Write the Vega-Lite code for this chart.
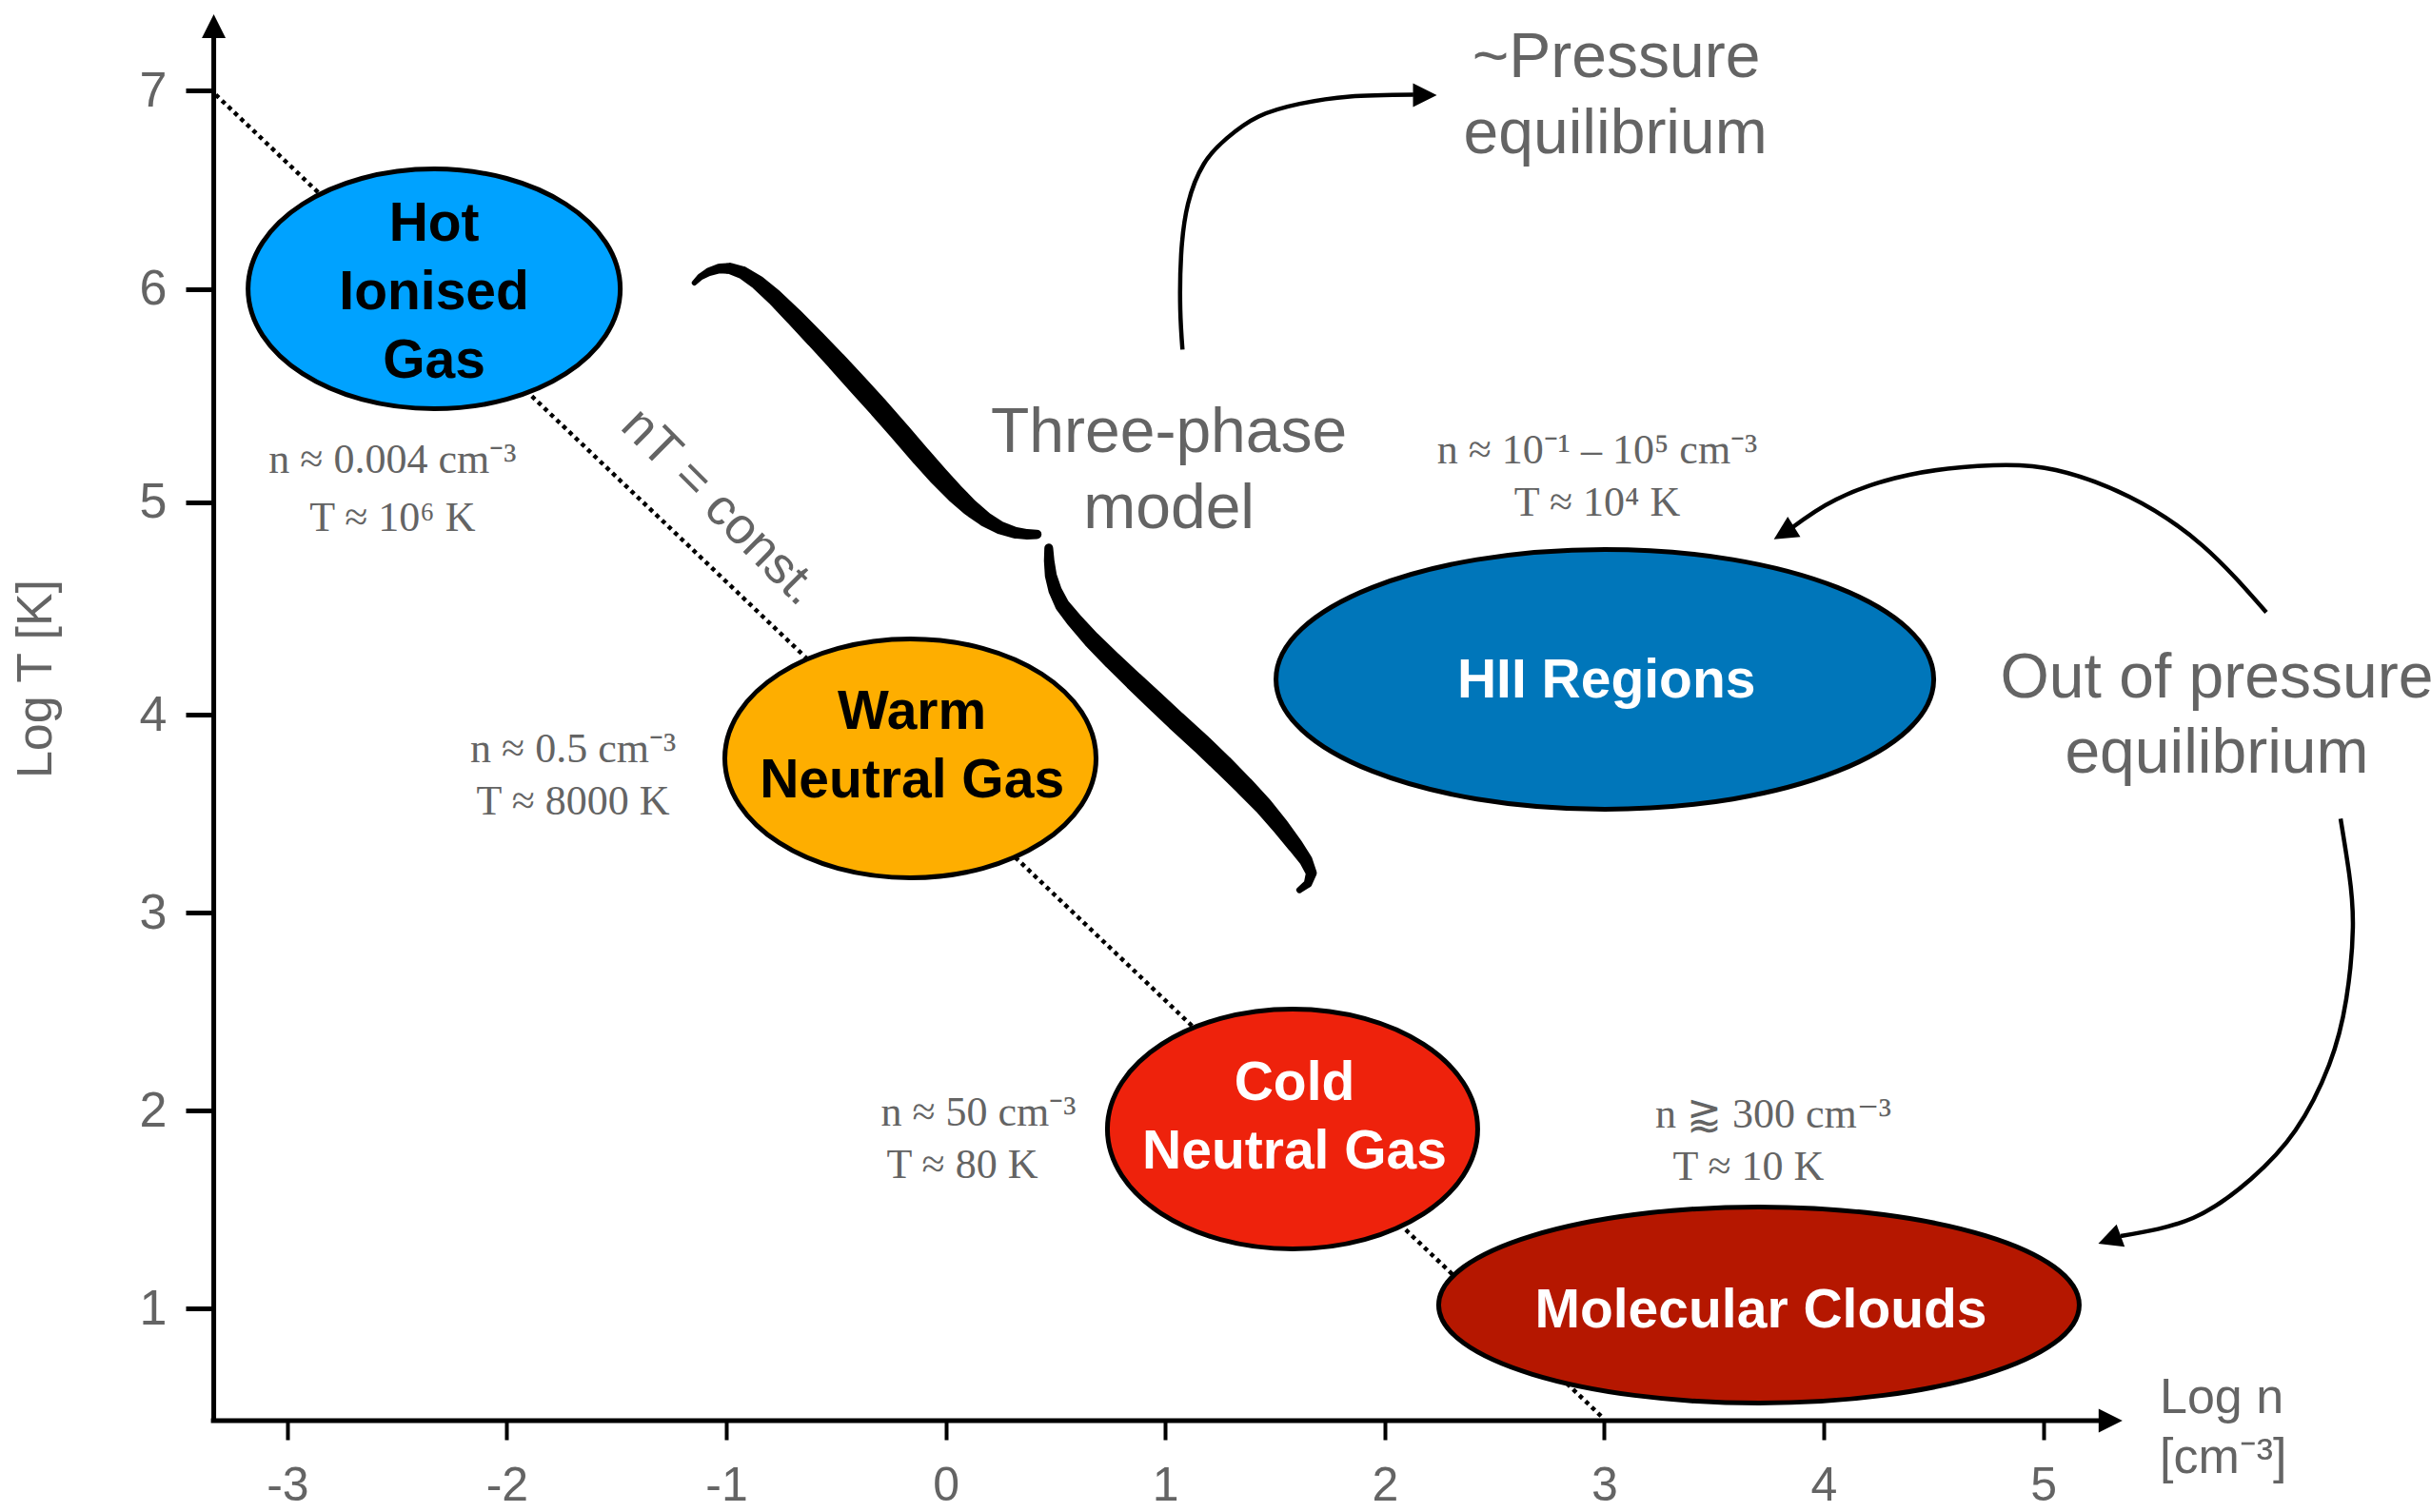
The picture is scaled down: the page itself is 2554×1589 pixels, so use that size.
{
  "$schema": "https://vega.github.io/schema/vega-lite/v6.json",
  "width": 2331,
  "height": 1493,
  "autosize": {"type": "none"},
  "padding": {"left": 223, "top": 0, "right": 0, "bottom": 96},
  "background": "white",
  "config": {"view": {"stroke": null}},
  "datasets": {
    "guides": [
      {"logn": -3.348, "logn2": 5.2576, "logT": 0.4327, "logT2": 0.4327},
      {"logn": -3.3352, "logn2": -3.3352, "logT": 0.4255, "logT2": 7.266}
    ],
    "isobar": [
      {"seq": 1, "logn": -3.326, "logT": 6.98},
      {"seq": 2, "logn": 2.994, "logT": 0.447}
    ],
    "phases": [
      {"phase": "Hot", "logn": -2.331, "logT": 6.0},
      {"phase": "Warm", "logn": -0.161, "logT": 3.779},
      {"phase": "Cold", "logn": 1.58, "logT": 1.906},
      {"phase": "HII", "logn": 3.003, "logT": 4.166},
      {"phase": "Mol", "logn": 3.705, "logT": 1.017}
    ],
    "phaseLabels": [
      {"phase": "Hot", "text": "Hot", "logn": -2.331, "logT": 6.243},
      {"phase": "Hot", "text": "Ionised", "logn": -2.331, "logT": 5.904},
      {"phase": "Hot", "text": "Gas", "logn": -2.331, "logT": 5.583},
      {"phase": "Warm", "text": "Warm", "logn": -0.154, "logT": 3.928},
      {"phase": "Warm", "text": "Neutral Gas", "logn": -0.154, "logT": 3.582},
      {"phase": "Cold", "text": "Cold", "logn": 1.589, "logT": 2.053},
      {"phase": "Cold", "text": "Neutral Gas", "logn": 1.589, "logT": 1.707},
      {"phase": "HII", "text": "HII Regions", "logn": 3.01, "logT": 4.081},
      {"phase": "Mol", "text": "Molecular Clouds", "logn": 3.714, "logT": 0.904}
    ],
    "estimates": [
      {"text": "n ≈ 0.004 cm⁻³", "logn": -2.521, "logT": 5.137},
      {"text": "T ≈ 10⁶ K", "logn": -2.521, "logT": 4.864},
      {"text": "n ≈ 0.5 cm⁻³", "logn": -1.698, "logT": 3.76},
      {"text": "T ≈ 8000 K", "logn": -1.698, "logT": 3.495},
      {"text": "n ≈ 50 cm⁻³", "logn": 0.149, "logT": 1.923},
      {"text": "T ≈ 80 K", "logn": 0.0755, "logT": 1.659},
      {"text": "n ≈ 10⁻¹ – 10⁵ cm⁻³", "logn": 2.968, "logT": 5.181},
      {"text": "T ≈ 10⁴ K", "logn": 2.968, "logT": 4.936},
      {"text": "n ⪆ 300 cm⁻³", "logn": 3.77, "logT": 1.913},
      {"text": "T ≈ 10 K", "logn": 3.657, "logT": 1.649}
    ],
    "captions": [
      {"text": "~Pressure", "logn": 3.055, "logT": 7.069},
      {"text": "equilibrium", "logn": 3.051, "logT": 6.685},
      {"text": "Three-phase", "logn": 1.017, "logT": 5.235},
      {"text": "model", "logn": 1.017, "logT": 4.877},
      {"text": "Out of pressure", "logn": 5.791, "logT": 4.081},
      {"text": "equilibrium", "logn": 5.791, "logT": 3.707}
    ],
    "isobarLabel": [
      {"text": "nT = const.", "logn": -1.03, "logT": 4.976}
    ],
    "xTitle": [
      {"text": "Log n", "logn": 5.531, "logT": 0.471},
      {"text": "[cm⁻³]", "logn": 5.531, "logT": 0.168}
    ],
    "brace": [
      {"half": "a", "seq": 1, "logn": -1.1454, "logT": 6.0302, "weight": 0.25},
      {"half": "a", "seq": 2, "logn": -1.1183, "logT": 6.0602, "weight": 0.32},
      {"half": "a", "seq": 3, "logn": -1.0796, "logT": 6.0859, "weight": 0.4},
      {"half": "a", "seq": 4, "logn": -1.0312, "logT": 6.1031, "weight": 0.47},
      {"half": "a", "seq": 5, "logn": -0.9828, "logT": 6.1031, "weight": 0.54},
      {"half": "a", "seq": 6, "logn": -0.9247, "logT": 6.0816, "weight": 0.62},
      {"half": "a", "seq": 7, "logn": -0.857, "logT": 6.0323, "weight": 0.7},
      {"half": "a", "seq": 8, "logn": -0.7795, "logT": 5.9603, "weight": 0.78},
      {"half": "a", "seq": 9, "logn": -0.6924, "logT": 5.8706, "weight": 0.85},
      {"half": "a", "seq": 10, "logn": -0.5956, "logT": 5.767, "weight": 0.9},
      {"half": "a", "seq": 11, "logn": -0.4988, "logT": 5.6613, "weight": 0.94},
      {"half": "a", "seq": 12, "logn": -0.402, "logT": 5.5517, "weight": 0.97},
      {"half": "a", "seq": 13, "logn": -0.3052, "logT": 5.4421, "weight": 0.98},
      {"half": "a", "seq": 14, "logn": -0.2084, "logT": 5.3285, "weight": 0.98},
      {"half": "a", "seq": 15, "logn": -0.1116, "logT": 5.2129, "weight": 0.97},
      {"half": "a", "seq": 16, "logn": -0.0342, "logT": 5.1232, "weight": 0.95},
      {"half": "a", "seq": 17, "logn": 0.0432, "logT": 5.0395, "weight": 0.9},
      {"half": "a", "seq": 18, "logn": 0.111, "logT": 4.9737, "weight": 0.82},
      {"half": "a", "seq": 19, "logn": 0.1788, "logT": 4.9197, "weight": 0.72},
      {"half": "a", "seq": 20, "logn": 0.2465, "logT": 4.8798, "weight": 0.62},
      {"half": "a", "seq": 21, "logn": 0.3143, "logT": 4.8558, "weight": 0.55},
      {"half": "a", "seq": 22, "logn": 0.3723, "logT": 4.8478, "weight": 0.5},
      {"half": "a", "seq": 23, "logn": 0.415, "logT": 4.8478, "weight": 0.45},
      {"half": "b", "seq": 1, "logn": 0.4692, "logT": 4.7838, "weight": 0.42},
      {"half": "b", "seq": 2, "logn": 0.4711, "logT": 4.7239, "weight": 0.5},
      {"half": "b", "seq": 3, "logn": 0.4788, "logT": 4.6539, "weight": 0.57},
      {"half": "b", "seq": 4, "logn": 0.4982, "logT": 4.584, "weight": 0.64},
      {"half": "b", "seq": 5, "logn": 0.5311, "logT": 4.514, "weight": 0.7},
      {"half": "b", "seq": 6, "logn": 0.5853, "logT": 4.4441, "weight": 0.76},
      {"half": "b", "seq": 7, "logn": 0.6628, "logT": 4.3542, "weight": 0.82},
      {"half": "b", "seq": 8, "logn": 0.7595, "logT": 4.2543, "weight": 0.87},
      {"half": "b", "seq": 9, "logn": 0.8563, "logT": 4.1583, "weight": 0.91},
      {"half": "b", "seq": 10, "logn": 0.9531, "logT": 4.0644, "weight": 0.94},
      {"half": "b", "seq": 11, "logn": 1.0499, "logT": 3.9683, "weight": 0.96},
      {"half": "b", "seq": 12, "logn": 1.1661, "logT": 3.8503, "weight": 0.97},
      {"half": "b", "seq": 13, "logn": 1.2629, "logT": 3.7473, "weight": 0.96},
      {"half": "b", "seq": 14, "logn": 1.3597, "logT": 3.64, "weight": 0.93},
      {"half": "b", "seq": 15, "logn": 1.4468, "logT": 3.539, "weight": 0.88},
      {"half": "b", "seq": 16, "logn": 1.5243, "logT": 3.4361, "weight": 0.82},
      {"half": "b", "seq": 17, "logn": 1.592, "logT": 3.3395, "weight": 0.74},
      {"half": "b", "seq": 18, "logn": 1.6404, "logT": 3.2643, "weight": 0.64},
      {"half": "b", "seq": 19, "logn": 1.6656, "logT": 3.2, "weight": 0.52},
      {"half": "b", "seq": 20, "logn": 1.6501, "logT": 3.1463, "weight": 0.4},
      {"half": "b", "seq": 21, "logn": 1.6114, "logT": 3.1141, "weight": 0.3}
    ],
    "arrows": [
      {"arrow": "A", "seq": 1, "logn": 1.0785, "logT": 5.715},
      {"arrow": "A", "seq": 2, "logn": 1.0685, "logT": 5.903},
      {"arrow": "A", "seq": 3, "logn": 1.0724, "logT": 6.171},
      {"arrow": "A", "seq": 4, "logn": 1.1036, "logT": 6.429},
      {"arrow": "A", "seq": 5, "logn": 1.1761, "logT": 6.631},
      {"arrow": "A", "seq": 6, "logn": 1.2801, "logT": 6.76},
      {"arrow": "A", "seq": 7, "logn": 1.425, "logT": 6.87},
      {"arrow": "A", "seq": 8, "logn": 1.6119, "logT": 6.934},
      {"arrow": "A", "seq": 9, "logn": 1.8404, "logT": 6.971},
      {"arrow": "A", "seq": 10, "logn": 2.1305, "logT": 6.98},
      {"arrow": "B", "seq": 1, "logn": 6.0165, "logT": 4.481},
      {"arrow": "B", "seq": 2, "logn": 5.726, "logT": 4.795},
      {"arrow": "B", "seq": 3, "logn": 5.392, "logT": 5.025},
      {"arrow": "B", "seq": 4, "logn": 5.058, "logT": 5.15},
      {"arrow": "B", "seq": 5, "logn": 4.772, "logT": 5.172},
      {"arrow": "B", "seq": 6, "logn": 4.39, "logT": 5.128},
      {"arrow": "B", "seq": 7, "logn": 4.056, "logT": 5.012},
      {"arrow": "B", "seq": 8, "logn": 3.853, "logT": 4.877},
      {"arrow": "C", "seq": 1, "logn": 6.355, "logT": 3.474},
      {"arrow": "C", "seq": 2, "logn": 6.394, "logT": 3.197},
      {"arrow": "C", "seq": 3, "logn": 6.411, "logT": 2.923},
      {"arrow": "C", "seq": 4, "logn": 6.381, "logT": 2.563},
      {"arrow": "C", "seq": 5, "logn": 6.303, "logT": 2.231},
      {"arrow": "C", "seq": 6, "logn": 6.149, "logT": 1.899},
      {"arrow": "C", "seq": 7, "logn": 5.947, "logT": 1.654},
      {"arrow": "C", "seq": 8, "logn": 5.683, "logT": 1.457},
      {"arrow": "C", "seq": 9, "logn": 5.353, "logT": 1.365}
    ],
    "heads": [
      {"arrow": "xaxis", "logn": 5.307, "logT": 0.4327, "heading": 0},
      {"arrow": "yaxis", "logn": -3.3352, "logT": 7.326, "heading": 270},
      {"arrow": "A", "logn": 2.183, "logT": 6.978, "heading": 0},
      {"arrow": "B", "logn": 3.819, "logT": 4.854, "heading": 148},
      {"arrow": "C", "logn": 5.302, "logT": 1.347, "heading": 160}
    ]
  },
  "encoding": {
    "x": {
      "field": "logn",
      "type": "quantitative",
      "scale": {"domain": [-3.342, 6.767], "nice": false, "zero": false},
      "axis": {
        "values": [-3, -2, -1, 0, 1, 2, 3, 4, 5],
        "title": null,
        "domain": false,
        "grid": false,
        "tickSize": 20,
        "tickWidth": 4,
        "tickColor": "black",
        "labelFont": "Liberation Sans",
        "labelFontSize": 50,
        "labelColor": "#646464",
        "labelPadding": 23,
        "labelFlush": false,
        "labelOverlap": false,
        "labelExpr": "'' + datum.value"
      }
    },
    "y": {
      "field": "logT",
      "type": "quantitative",
      "scale": {
        "domain": [1, 2, 3, 4, 5, 6, 7],
        "range": [1375, 1167, 959, 751, 527.6, 303.6, 95.4],
        "nice": false,
        "zero": false
      },
      "axis": {
        "values": [1, 2, 3, 4, 5, 6, 7],
        "title": "Log T [K]",
        "domain": false,
        "grid": false,
        "tickSize": 28,
        "tickWidth": 5,
        "tickColor": "black",
        "labelFont": "Liberation Sans",
        "labelFontSize": 52,
        "labelColor": "#646464",
        "labelPadding": 20,
        "labelOverlap": false,
        "titleFont": "Liberation Sans",
        "titleFontSize": 52,
        "titleFontWeight": "normal",
        "titleColor": "#646464",
        "titleX": -170,
        "titleY": 713,
        "titleAngle": -90,
        "titleAlign": "center",
        "titleBaseline": "alphabetic"
      }
    }
  },
  "layer": [
    {
      "data": {"name": "isobar"},
      "mark": {"type": "line", "color": "black", "strokeWidth": 4.5, "strokeDash": [4.5, 4.5]},
      "encoding": {"order": {"field": "seq", "type": "quantitative"}}
    },
    {
      "data": {"name": "brace"},
      "mark": {"type": "trail", "color": "black"},
      "encoding": {
        "order": {"field": "seq", "type": "quantitative"},
        "detail": {"field": "half", "type": "nominal"},
        "size": {"field": "weight", "type": "quantitative", "scale": {"domain": [0, 1], "range": [0, 22]}, "legend": null}
      }
    },
    {
      "data": {"name": "arrows"},
      "mark": {"type": "line", "color": "black", "strokeWidth": 4.5, "interpolate": "natural"},
      "encoding": {
        "order": {"field": "seq", "type": "quantitative"},
        "detail": {"field": "arrow", "type": "nominal"}
      }
    },
    {
      "data": {"name": "phases"},
      "mark": {"type": "point", "filled": true, "opacity": 1, "size": 1000000, "stroke": "black", "strokeWidth": 5},
      "encoding": {
        "shape": {
          "field": "phase",
          "type": "nominal",
          "scale": {
            "domain": ["Hot", "Warm", "Cold", "HII", "Mol"],
            "range": [
              "M -0.391 0 C -0.391 -0.1392 -0.2159 -0.252 0 -0.252 C 0.2159 -0.252 0.391 -0.1392 0.391 0 C 0.391 0.1392 0.2159 0.252 0 0.252 C -0.2159 0.252 -0.391 0.1392 -0.391 0 Z",
              "M -0.39 0 C -0.39 -0.1386 -0.2154 -0.251 0 -0.251 C 0.2154 -0.251 0.39 -0.1386 0.39 0 C 0.39 0.1386 0.2154 0.251 0 0.251 C -0.2154 0.251 -0.39 0.1386 -0.39 0 Z",
              "M -0.389 0 C -0.389 -0.1392 -0.2148 -0.252 0 -0.252 C 0.2148 -0.252 0.389 -0.1392 0.389 0 C 0.389 0.1392 0.2148 0.252 0 0.252 C -0.2148 0.252 -0.389 0.1392 -0.389 0 Z",
              "M -0.691 0 C -0.691 -0.1508 -0.3816 -0.273 0 -0.273 C 0.3816 -0.273 0.691 -0.1508 0.691 0 C 0.691 0.1508 0.3816 0.273 0 0.273 C -0.3816 0.273 -0.691 0.1508 -0.691 0 Z",
              "M -0.673 0 C -0.673 -0.1138 -0.3717 -0.206 0 -0.206 C 0.3717 -0.206 0.673 -0.1138 0.673 0 C 0.673 0.1138 0.3717 0.206 0 0.206 C -0.3717 0.206 -0.673 0.1138 -0.673 0 Z"
            ]
          },
          "legend": null
        },
        "fill": {
          "field": "phase",
          "type": "nominal",
          "scale": {
            "domain": ["Hot", "Warm", "Cold", "HII", "Mol"],
            "range": ["#00A2FF", "#FEAE00", "#EE220C", "#0076BA", "#B51700"]
          },
          "legend": null
        }
      }
    },
    {
      "data": {"name": "heads"},
      "mark": {"type": "point", "shape": "M -1 -1 L 1 0 L -1 1 Z", "filled": true, "color": "black", "opacity": 1, "size": 625, "strokeWidth": 0},
      "encoding": {
        "angle": {"field": "heading", "type": "quantitative", "scale": {"domain": [0, 360], "range": [0, 360]}}
      }
    },
    {
      "data": {"name": "guides"},
      "mark": {"type": "rule", "color": "black", "strokeWidth": 5},
      "encoding": {
        "x2": {"field": "logn2"},
        "y2": {"field": "logT2"}
      }
    },
    {
      "data": {"name": "phaseLabels"},
      "mark": {"type": "text", "font": "Liberation Sans", "fontWeight": "bold", "fontSize": 57, "align": "center", "baseline": "alphabetic"},
      "encoding": {
        "text": {"field": "text"},
        "color": {
          "field": "phase",
          "type": "nominal",
          "scale": {"domain": ["Hot", "Warm", "Cold", "HII", "Mol"], "range": ["black", "black", "white", "white", "white"]},
          "legend": null
        }
      }
    },
    {
      "data": {"name": "estimates"},
      "mark": {"type": "text", "font": "Liberation Serif", "fontSize": 44, "align": "center", "baseline": "alphabetic", "color": "#646464"},
      "encoding": {"text": {"field": "text"}}
    },
    {
      "data": {"name": "captions"},
      "mark": {"type": "text", "font": "Liberation Sans", "fontSize": 66, "align": "center", "baseline": "alphabetic", "color": "#646464"},
      "encoding": {"text": {"field": "text"}}
    },
    {
      "data": {"name": "isobarLabel"},
      "mark": {"type": "text", "font": "Liberation Sans", "fontSize": 54, "align": "center", "baseline": "middle", "angle": 45, "color": "#646464"},
      "encoding": {"text": {"field": "text"}}
    },
    {
      "data": {"name": "xTitle"},
      "mark": {"type": "text", "font": "Liberation Sans", "fontSize": 52, "align": "left", "baseline": "alphabetic", "color": "#646464"},
      "encoding": {"text": {"field": "text"}}
    }
  ]
}
